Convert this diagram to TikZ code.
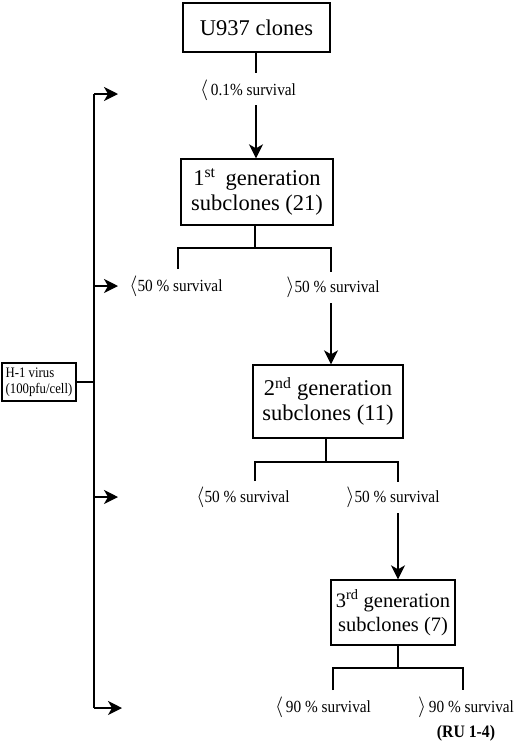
\documentclass[tikz,border=0pt]{standalone}
\usepackage{fontspec}
\setmainfont{Liberation Serif}
\newfontfamily\cond{Liberation Serif}[FakeStretch=0.9]
\newfontfamily\condsm{Liberation Serif}[FakeStretch=0.88]
\usetikzlibrary{arrows.meta}
\newcommand{\lbr}{{\fontsize{21}{21}\selectfont$\langle$}}
\newcommand{\rbr}{{\fontsize{21}{21}\selectfont$\rangle$}}
\begin{document}
\begin{tikzpicture}[x=1pt,y=-1pt,
  line width=1.3pt,
  box/.style={draw,line width=1.4pt,align=center,inner sep=0pt},
  big/.style={font=\fontsize{22.5}{25}\selectfont},
  lab/.style={font=\cond\fontsize{17}{19}\selectfont,inner sep=0pt,anchor=base},
  arr/.style={-{Stealth[length=14pt,width=14pt,inset=4pt]}},
  ]
\useasboundingbox (0,0) rectangle (520,742);
% boxes
\node[box,big,minimum width=147pt,minimum height=49pt] (u937) at (256.5,27.5) {U937 clones};
\node[box,big,minimum width=152pt,minimum height=66pt] (b1) at (257,192) {1\textsuperscript{st}\hspace{0.45em}generation\\subclones (21)};
\node[box,big,minimum width=150pt,minimum height=73pt] (b2) at (328,401.5) {2\textsuperscript{nd} generation\\subclones (11)};
\node[box,font=\fontsize{20.5}{24}\selectfont,minimum width=124pt,minimum height=65pt] (b3) at (393,612.5) {3\textsuperscript{rd} generation\\subclones (7)};
\node[box,font=\condsm\fontsize{14.5}{16.5}\selectfont,align=left,minimum width=74pt,minimum height=38pt] (h1) at (39,382) {H-1 virus\\(100pfu/cell)};
% labels
\node[lab] (l0) at (248,95) {\lbr\,0.1\% survival};
\node[lab] (l1a) at (176,291) {\lbr50 \% survival};
\node[lab] (l1b) at (333,292) {\rbr50 \% survival};
\node[lab] (l2a) at (243,502) {\lbr50 \% survival};
\node[lab] (l2b) at (393,502) {\rbr50 \% survival};
\node[lab] (l3a) at (323,712) {\lbr\,90 \% survival};
\node[lab] (l3b) at (466,712) {\rbr\,90 \% survival};
\node[lab,font=\cond\bfseries\fontsize{17.5}{19}\selectfont] (ru) at (466,737) {(RU 1-4)};
% coordinates
\coordinate (c0) at (256,73);
\coordinate (a0) at (256,105);
\coordinate (j1) at (255,248);
\coordinate (j1a) at (178,248);
\coordinate (j1b) at (331,248);
\coordinate (d1a) at (178,269);
\coordinate (d1b) at (331,272);
\coordinate (a1) at (331,303);
\coordinate (j2) at (326,462);
\coordinate (j2a) at (255,462);
\coordinate (j2b) at (398,462);
\coordinate (d2a) at (255,481);
\coordinate (d2b) at (398,482);
\coordinate (a2) at (398,513);
\coordinate (j3) at (398,668);
\coordinate (j3a) at (333,668);
\coordinate (j3b) at (463,668);
\coordinate (d3a) at (333,690);
\coordinate (d3b) at (463,690);
\coordinate (v0) at (94,94);
\coordinate (v1) at (94,286);
\coordinate (v2) at (94,497);
\coordinate (v3) at (94,708);
\coordinate (vh) at (94,382);
\coordinate (t0) at (118,94);
\coordinate (t1) at (118,286);
\coordinate (t2) at (118,497);
\coordinate (t3) at (122,708);
% main flow
\draw (u937.south -| c0) -- (c0);
\draw[arr] (a0) -- (a0 |- b1.north);
\draw (b1.south -| j1) -- (j1);
\draw (d1a) -- (j1a) -- (j1b) -- (d1b);
\draw[arr] (a1) -- (a1 |- b2.north);
\draw (b2.south -| j2) -- (j2);
\draw (d2a) -- (j2a) -- (j2b) -- (d2b);
\draw[arr] (a2) -- (a2 |- b3.north);
\draw (b3.south -| j3) -- (j3);
\draw (d3a) -- (j3a) -- (j3b) -- (d3b);
% virus
\draw (h1.east) -- (vh);
\draw (v0) -- (v3);
\draw[arr] (v0) -- (t0);
\draw[arr] (v1) -- (t1);
\draw[arr] (v2) -- (t2);
\draw[arr] (v3) -- (t3);
\end{tikzpicture}
\end{document}
